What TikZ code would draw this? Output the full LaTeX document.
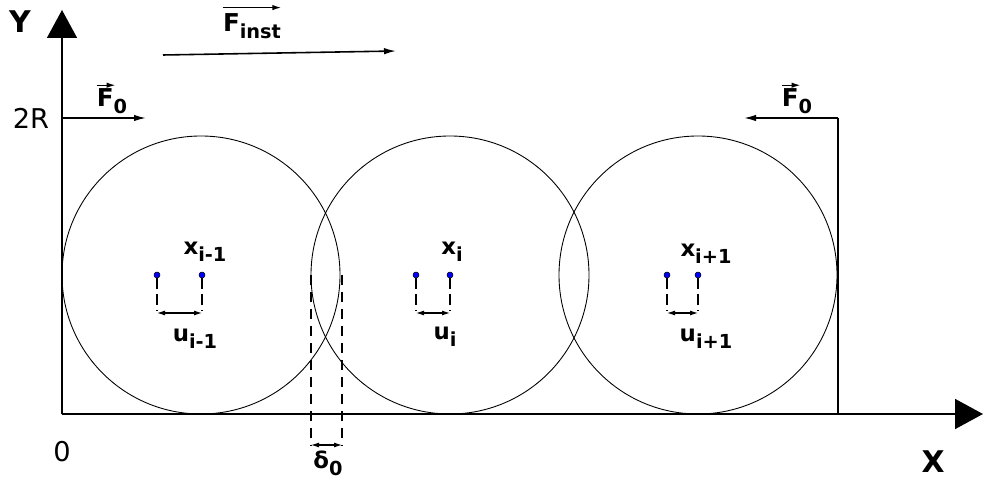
\documentclass[tikz,border=0pt]{standalone}
\usepackage{fontspec}
\setmainfont{DejaVu Sans}
\usetikzlibrary{arrows.meta}
\newcommand{\dn}[1]{\raisebox{-0.55ex}{\fontsize{11}{11}\selectfont #1}}
\tikzset{
  axis/.style={line width=0.9pt, -{Triangle[length=5.6mm,width=6mm]}},
  force/.style={line width=0.9pt, -{Latex[length=2.4mm,width=1.3mm]}},
  overarrow/.style={line width=0.8pt, -{Latex[length=1.8mm,width=1.1mm]}},
  gap/.style={line width=0.6pt, {Latex[length=1.6mm,width=1mm]}-{Latex[length=1.6mm,width=1mm]}},
  guide/.style={line width=1.1pt, dash pattern=on 2mm off 1.4mm},
  ball/.style={line width=0.5pt},
  dot/.style={circle, fill=blue, draw=black, line width=0.3pt, inner sep=0pt, minimum size=1.2mm},
  lbl/.style={font=\bfseries\fontsize{13}{13}\selectfont, inner sep=0pt},
  flbl/.style={font=\bfseries\fontsize{14}{14}\selectfont, inner sep=0pt}
}
\begin{document}
\begin{tikzpicture}[x=0.02cm, y=-0.02cm]
  \useasboundingbox (0,0) rectangle (983,489);
  % Axes
  \draw[axis] (62,414) -- (62,10);
  \draw[axis] (62,414) -- (983,414);
  \node[font=\bfseries\fontsize{17}{17}\selectfont] (ylab) at (20,22) {Y};
  \node[font=\bfseries\fontsize{17}{17}\selectfont] (xlab) at (933,462) {X};
  \node[font=\fontsize{15.5}{15.5}\selectfont] (twoR) at (31,118) {2R};
  \node[font=\fontsize{15.5}{15.5}\selectfont] (zero) at (62,452) {0};
  % Walls and forces
  \draw[line width=0.9pt] (62,414) -- (62,118) coordinate (wl);
  \draw[line width=0.9pt] (838,414) -- (838,118) coordinate (wr);
  \coordinate (fl) at (146,118);
  \coordinate (fr) at (744,118);
  \draw[force] (wl) -- (fl);
  \draw[force] (wr) -- (fr);
  \node[flbl] (f0l) at (112,101) {F\dn{0}};
  \node[flbl] (f0r) at (797,101) {F\dn{0}};
  \draw[overarrow] ([yshift=1.5pt]f0l.north west) -- ++(0.38cm,0);
  \draw[overarrow] ([yshift=1.5pt]f0r.north west) -- ++(0.38cm,0);
  \coordinate (fa) at (163,55);
  \coordinate (fb) at (396,51);
  \draw[force] (fa) -- (fb);
  \node[flbl] (finst) at (252,26) {F\dn{inst}};
  \draw[overarrow] ([yshift=3pt]finst.north west) -- ([yshift=3pt]finst.north east);
  % Balls
  \draw[ball] (201,275) circle (139);
  \draw[ball] (450,275) circle (139);
  \draw[ball] (698,275) circle (139);
  % Overlap
  \draw[guide] (311,275) -- (311,446);
  \draw[guide] (342,275) -- (342,446);
  \draw[gap] (311,445) -- (342,445);
  \node[lbl] (delta) at (328,463) {δ\dn{0}};
  % Displacements
  \foreach \a/\b/\n in {157/202/1, 416/450/2, 667/698/3} {
    \node[dot] (p\n) at (\a,275) {};
    \node[dot] (q\n) at (\b,275) {};
    \draw[guide, dash pattern=on 2.2mm off 1mm] (p\n) -- (\a,311);
    \draw[guide, dash pattern=on 2.2mm off 1mm] (q\n) -- (\b,311);
    \draw[gap] (\a,313) -- (\b,313);
  }
  \node[lbl] (xa) at (205,252) {x\dn{i-1}};
  \node[lbl] (xb) at (452,252) {x\dn{i}};
  \node[lbl] (xc) at (706,254) {x\dn{i+1}};
  \node[lbl] (ua) at (195,339) {u\dn{i-1}};
  \node[lbl] (ub) at (445,337) {u\dn{i}};
  \node[lbl] (uc) at (706,339) {u\dn{i+1}};
\end{tikzpicture}
\end{document}
